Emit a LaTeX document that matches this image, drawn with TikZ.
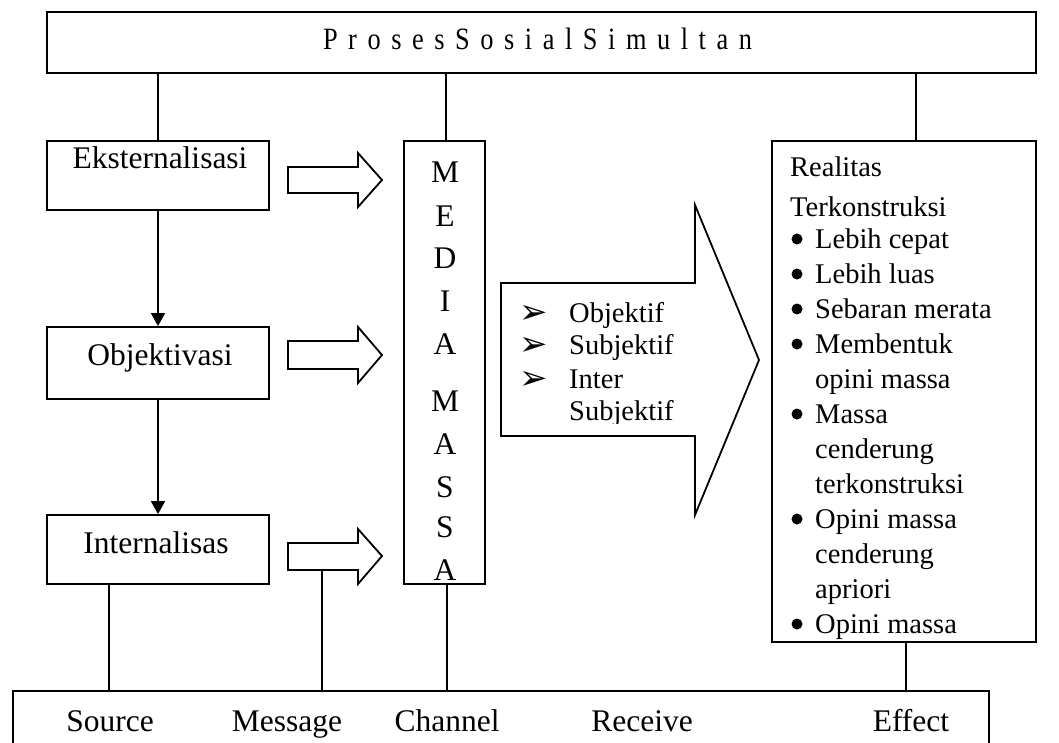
\documentclass[tikz,border=0pt]{standalone}
\usepackage{fontspec}
\setmainfont{Liberation Serif}
\newfontfamily\titlefont[FakeStretch=0.85]{Liberation Serif}
\newfontfamily\djv{DejaVu Sans}
\usetikzlibrary{arrows.meta,calc}
\begin{document}
\begin{tikzpicture}[x=1pt,y=-1pt,
  box/.style={draw,line width=1.8pt,rectangle,inner sep=0pt},
  conn/.style={line width=1.8pt},
  flow/.style={line width=1.8pt,-{Triangle[length=13pt,width=14pt]}},
  blk/.style={draw,line width=1.8pt,line join=miter,fill=white},
  txt/.style={inner sep=0pt,anchor=base,font=\fontsize{31.5}{36}\selectfont},
  rtxt/.style={inner sep=0pt,anchor=base west,font=\fontsize{28.5}{35}\selectfont},
  abul/.style={inner sep=0pt,anchor=center,font=\djv\fontsize{34}{34}\selectfont},
  dbul/.style={circle,fill,inner sep=0pt,minimum size=11pt},
]
\useasboundingbox (0,0) rectangle (1059,743);

% boxes
\node[box,minimum width=989pt,minimum height=61pt] (top) at (541.5,42.5) {};
\node[box,minimum width=222pt,minimum height=69pt] (eks) at (158,175.5) {};
\node[box,minimum width=222pt,minimum height=72pt] (obj) at (158,363) {};
\node[box,minimum width=222pt,minimum height=69pt] (int) at (158,549.5) {};
\node[box,minimum width=81pt,minimum height=443pt] (media) at (444.5,362.5) {};
\node[box,minimum width=264pt,minimum height=501pt] (rbox) at (904,391.5) {};
\node[box,minimum width=976pt,minimum height=109pt] (bot) at (501,745.5) {};

% title
\node[inner sep=0pt,anchor=base,font=\titlefont\fontsize{31}{31}\selectfont] (title) at (537.5,50)
  {\makebox[429pt]{P\hfill r\hfill o\hfill s\hfill e\hfill s\hfill S\hfill o\hfill s\hfill i\hfill a\hfill l\hfill S\hfill i\hfill m\hfill u\hfill l\hfill t\hfill a\hfill n}};

% connectors from the top box
\draw[conn] (eks.north) -- (eks.north |- top.south);
\coordinate (mt) at ([xshift=1.5pt]media.north);
\draw[conn] (mt) -- (mt |- top.south);
\coordinate (rt) at ([xshift=12pt]rbox.north);
\draw[conn] (rt) -- (rt |- top.south);

% flow arrows on the left
\draw[flow] (eks.south) -- (obj.north);
\draw[flow] (obj.south) -- (int.north);

% connectors to the bottom box
\coordinate (ib) at ([xshift=-49pt]int.south);
\draw[conn] (ib) -- (ib |- bot.north);
\coordinate (a3b) at (322,570);
\draw[conn] (a3b) -- (a3b |- bot.north);
\coordinate (mb) at ([xshift=2.5pt]media.south);
\draw[conn] (mb) -- (mb |- bot.north);
\coordinate (rb) at ([xshift=2pt]rbox.south);
\draw[conn] (rb) -- (rb |- bot.north);

% block arrows
\draw[blk] (288,167) -- (358,167) -- (358,153) -- (382,180) -- (358,207) -- (358,193) -- (288,193) -- cycle;
\draw[blk] (288,341) -- (358,341) -- (358,327) -- (382,355) -- (358,383) -- (358,369) -- (288,369) -- cycle;
\draw[blk] (288,543) -- (358,543) -- (358,529) -- (382,556) -- (358,584) -- (358,570) -- (288,570) -- cycle;

% big arrow
\draw[blk] (501,283) -- (695,283) -- (695,205) -- (759,360) -- (695,515) -- (695,436) -- (501,436) -- cycle;

% left box texts
\node[txt] (teks) at (160,169) {Eksternalisasi};
\node[txt] (tobj) at (160,365) {Objektivasi};
\node[txt] (tint) at (156,553) {Internalisas};

% media massa letters
\foreach \l/\yy [count=\k] in {M/183,E/226,D/269,I/311,A/354,M/411,A/454,S/497,S/537,A/580}
  \node[txt] (m\k) at (445,\yy) {\l};

% list in big arrow
\node[abul] (b1) at (533.5,314) {➢};
\node[rtxt] (l1) at (569,322) {Objektif};
\node[abul] (b2) at (533.5,346) {➢};
\node[rtxt] (l2) at (569,354) {Subjektif};
\node[abul] (b3) at (533.5,380) {➢};
\node[rtxt] (l3) at (569,388) {Inter};
\begin{scope}
\clip (500,300) rectangle (700,423);
\node[rtxt] (l4) at (569,420) {Subjektif};
\end{scope}

% right box texts
\node[rtxt] (r0) at (790,177) {Realitas};
\node[rtxt] (r1) at (790,217) {Terkonstruksi};
\foreach \i/\b/\t in {0/1/Lebih cepat,1/1/Lebih luas,2/1/Sebaran merata,3/1/Membentuk,4/0/opini massa,5/1/Massa,6/0/cenderung,7/0/terkonstruksi,8/1/Opini massa,9/0/cenderung,10/0/apriori,11/1/Opini massa}
{
  \node[rtxt] (rl\i) at (815,248+35*\i) {\t};
  \ifnum\b=1 \node[dbul] (rbu\i) at (797,239+35*\i) {}; \fi
}

% bottom box texts
\node[txt] (src) at (110,731) {Source};
\node[txt] (msg) at (287,731) {Message};
\node[txt] (chn) at (447,731) {Channel};
\node[txt] (rcv) at (642,731) {Receive};
\node[txt] (eff) at (911,731) {Effect};
\end{tikzpicture}
\end{document}
